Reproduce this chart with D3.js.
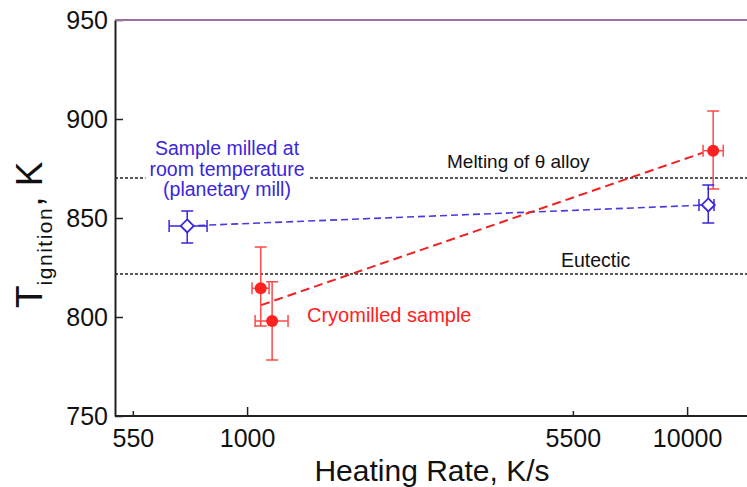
<!DOCTYPE html>
<html>
<head>
<meta charset="utf-8">
<script src="https://cdn.jsdelivr.net/npm/d3@7"></script>
<style>
  body { margin: 0; background: #fff; }
  svg { font-family: "Liberation Sans", Arial, sans-serif; }
</style>
</head>
<body>
<div id="chart"></div>
<script>
// data
var xTicks = [550, 1000, 5500, 10000];
var minorTicks = [550, 5500];
var yTicks = [750, 800, 850, 900, 950];

// room temperature (planetary mill) points
var blueX = [731, 11170];
var blueY = [846, 856.6];
var blueXLo = [665, 10640];
var blueXHi = [811, 11510];
var blueYLo = [837.4, 847.5];
var blueYHi = [853.5, 866.7];

// cryomilled points
var redX = [1074, 1140, 11460];
var redY = [814.5, 798, 884];
var redXLo = [1026, 1043, 10870];
var redXHi = [1122, 1239, 12080];
var redYLo = [795.5, 778.3, 864.6];
var redYHi = [835.4, 817.8, 904];

// fit through cryomilled points
var fitX = [1076, 10870];
var fitY = [806, 883];

var refLines = [
  {label: "Melting of \u03b8 alloy", value: 870.2},
  {label: "Eutectic", value: 821.7}
];

var W = 747, H = 487;
var margin = {top: 20, left: 115};
var blue = "#3a26dc", red = "#ff2020";

var svg = d3.select("#chart").append("svg")
  .attr("width", W).attr("height", H);

var x = d3.scaleLog().domain([501, 13680]).range([margin.left, W]);
var y = d3.scaleLinear().domain([750, 950]).range([416, margin.top]);

// reference lines
refLines.forEach(function(r) {
  svg.append("line")
    .attr("x1", x.range()[0]).attr("x2", W)
    .attr("y1", y(r.value)).attr("y2", y(r.value))
    .attr("stroke", "#222").attr("stroke-width", 1.4)
    .attr("stroke-dasharray", "3,2");
});

svg.append("text")
  .attr("x", 447).attr("y", y(870.2) - 10)
  .attr("font-size", 19).attr("fill", "#111")
  .text(refLines[0].label);
svg.append("text")
  .attr("x", 561).attr("y", y(821.7) - 7)
  .attr("font-size", 19.5).attr("fill", "#111")
  .text(refLines[1].label);

// blue label with white background
var bl = svg.append("g");
var blText = bl.append("text")
  .attr("text-anchor", "middle").attr("font-size", 19.5).attr("fill", blue);
["Sample milled at", "room temperature", "(planetary mill)"].forEach(function(s, i) {
  blText.append("tspan").attr("x", 227).attr("y", 155 + i * 20.5).text(s);
});
var bb = blText.node().getBBox();
bl.insert("rect", "text")
  .attr("x", bb.x - 4).attr("y", bb.y).attr("width", bb.width + 8).attr("height", bb.height)
  .attr("fill", "#fff");

svg.append("text")
  .attr("x", 307).attr("y", 322)
  .attr("font-size", 20).attr("fill", red)
  .text("Cryomilled sample");

// axes
var xAxis = svg.append("g")
  .attr("transform", "translate(0," + y(750) + ")")
  .call(d3.axisBottom(x).tickValues(xTicks).tickFormat(d3.format("d"))
    .tickSizeInner(-9).tickSizeOuter(0).tickPadding(13));
xAxis.selectAll(".tick line")
  .attr("y2", function(d) { return minorTicks.indexOf(d) >= 0 ? -5 : -9; });

var yAxis = svg.append("g")
  .attr("transform", "translate(" + margin.left + ",0)")
  .call(d3.axisLeft(y).tickValues(yTicks)
    .tickSizeInner(-8).tickSizeOuter(0).tickPadding(7));

[xAxis, yAxis].forEach(function(a) {
  a.select(".domain").attr("stroke", "#222").attr("stroke-width", 2);
  a.selectAll(".tick line").attr("stroke", "#222").attr("stroke-width", 1.5);
  a.selectAll(".tick text").attr("font-size", 25).attr("fill", "#111")
    .attr("font-family", "Liberation Sans, Arial, sans-serif");
});
xAxis.select(".domain").attr("d", "M" + margin.left + ",0H" + W);

// top frame line
svg.append("line")
  .attr("x1", margin.left).attr("x2", W)
  .attr("y1", y(950)).attr("y2", y(950))
  .attr("stroke", "#9c6fa3").attr("stroke-width", 2.2);

// connecting lines
var line = d3.line().x(function(d) { return x(d[0]); }).y(function(d) { return y(d[1]); });

svg.append("path")
  .datum(blueX.map(function(v, i) { return [v, blueY[i]]; }))
  .attr("d", line).attr("fill", "none")
  .attr("stroke", "#4a3ae0").attr("stroke-width", 1.6).attr("stroke-dasharray", "7,4");

svg.append("path")
  .datum(fitX.map(function(v, i) { return [v, fitY[i]]; }))
  .attr("d", line).attr("fill", "none")
  .attr("stroke", "#ee2222").attr("stroke-width", 2).attr("stroke-dasharray", "9,5");

// error bars
function errorBars(xs, ys, xlo, xhi, ylo, yhi, color, cap) {
  var g = svg.append("g").attr("stroke", color).attr("stroke-width", 1.5).attr("fill", "none");
  xs.forEach(function(v, i) {
    var cx = x(v), cy = y(ys[i]);
    var x0 = x(xlo[i]), x1 = x(xhi[i]), y0 = y(ylo[i]), y1 = y(yhi[i]);
    g.append("path").attr("d",
      "M" + cx + "," + y0 + "V" + y1 +
      "M" + (cx - cap) + "," + y0 + "H" + (cx + cap) +
      "M" + (cx - cap) + "," + y1 + "H" + (cx + cap) +
      "M" + x0 + "," + cy + "H" + x1 +
      "M" + x0 + "," + (cy - cap) + "V" + (cy + cap) +
      "M" + x1 + "," + (cy - cap) + "V" + (cy + cap));
  });
}
errorBars(redX, redY, redXLo, redXHi, redYLo, redYHi, "#ff4a4a", 6);
errorBars(blueX, blueY, blueXLo, blueXHi, blueYLo, blueYHi, blue, 6);

// markers
svg.selectAll(".red-dot").data(redX).enter().append("circle")
  .attr("cx", function(d) { return x(d); })
  .attr("cy", function(d, i) { return y(redY[i]); })
  .attr("r", 6).attr("fill", red);

svg.selectAll(".blue-dia").data(blueX).enter().append("path")
  .attr("transform", function(d, i) { return "translate(" + x(d) + "," + y(blueY[i]) + ")"; })
  .attr("d", "M0,-6.5L6.5,0L0,6.5L-6.5,0Z")
  .attr("fill", "#fff").attr("stroke", blue).attr("stroke-width", 1.8);

// axis titles
svg.append("text")
  .attr("x", 432).attr("y", 481)
  .attr("text-anchor", "middle").attr("font-size", 30).attr("fill", "#111")
  .text("Heating Rate, K/s");

var yt = svg.append("text")
  .attr("transform", "translate(42,308) rotate(-90)")
  .attr("font-size", 37).attr("fill", "#111");
yt.append("tspan").text("T");
yt.append("tspan").attr("font-size", 21).attr("dy", 10).attr("letter-spacing", 1.5).text("ignition");
yt.append("tspan").attr("dy", -10).text(", K");
</script>
</body>
</html>
